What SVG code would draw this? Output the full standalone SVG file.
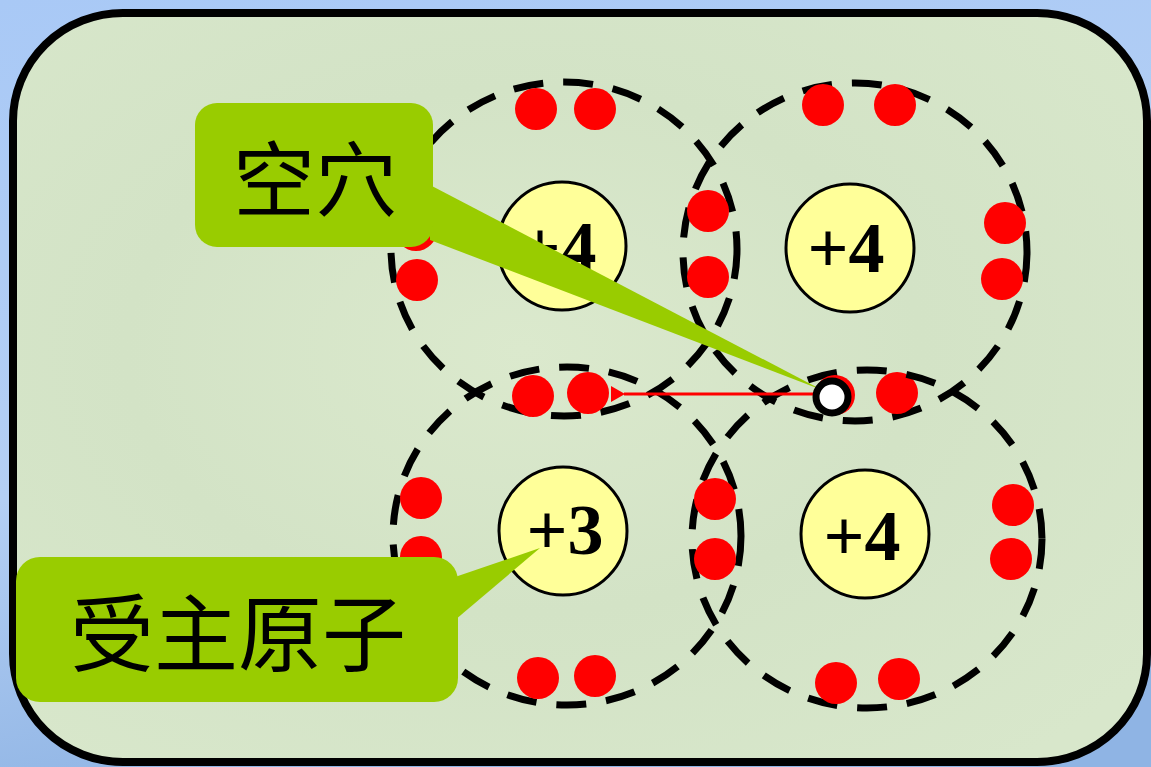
<svg xmlns="http://www.w3.org/2000/svg" width="1151" height="767" viewBox="0 0 1151 767">
  <defs>
    <linearGradient id="sky" x1="0" y1="0" x2="0.3" y2="1">
      <stop offset="0" stop-color="#a9c9f6"/>
      <stop offset="0.6" stop-color="#b4cff4"/>
      <stop offset="1" stop-color="#8fb4e4"/>
    </linearGradient>
    <radialGradient id="panel" cx="0.45" cy="0.45" r="0.7">
      <stop offset="0" stop-color="#dbe9cd"/>
      <stop offset="0.5" stop-color="#d3e3c6"/>
      <stop offset="1" stop-color="#d8e7cb"/>
    </radialGradient>
    <marker id="arrowhead" viewBox="0 0 14 16" refX="1" refY="8" markerWidth="14" markerHeight="16" markerUnits="userSpaceOnUse" orient="auto">
      <path d="M14,0 L0,8 L14,16 z" fill="#ff0000"/>
    </marker>
  </defs>
  <style>
    .shell { fill: none; stroke: #000; stroke-width: 7; stroke-dasharray: 30 20; }
    .nucleus { fill: #ffff99; stroke: #000; stroke-width: 3; }
    .charge { font-family: "Liberation Serif", "Times New Roman", serif; font-weight: bold; font-size: 72px; text-anchor: middle; fill: #000; }
    .electron { fill: #ff0000; }
    .callout { fill: #99cc00; }
    .label { font-family: "Noto Sans CJK SC", "Noto Sans CJK JP", sans-serif; text-anchor: middle; fill: #000; }
  </style>

  <!-- backdrop and framed panel -->
  <rect x="0" y="0" width="1151" height="767" fill="url(#sky)"/>
  <rect x="13" y="13" width="1134" height="749" rx="110" ry="108" fill="url(#panel)" stroke="#000" stroke-width="8"/>

  <!-- atom: top-left (+4) -->
  <g id="atom-top-left">
    <ellipse class="shell" cx="564" cy="249" rx="173" ry="167"/>
    <circle class="nucleus" cx="562" cy="246" r="64"/>
    <text class="charge" x="558" y="271">+4</text>
    <circle class="electron" cx="536" cy="109" r="21"/>
    <circle class="electron" cx="595" cy="109" r="21"/>
    <circle class="electron" cx="416" cy="230" r="21"/>
    <circle class="electron" cx="417" cy="280" r="21"/>
  </g>

  <!-- atom: top-right (+4) -->
  <g id="atom-top-right">
    <ellipse class="shell" cx="855" cy="252" rx="172" ry="169"/>
    <circle class="nucleus" cx="850" cy="248" r="64"/>
    <text class="charge" x="846" y="272">+4</text>
    <circle class="electron" cx="823" cy="105" r="21"/>
    <circle class="electron" cx="895" cy="105" r="21"/>
    <circle class="electron" cx="1005" cy="223" r="21"/>
    <circle class="electron" cx="1002" cy="279" r="21"/>
    <circle class="electron" cx="708" cy="211" r="21"/>
    <circle class="electron" cx="708" cy="277" r="21"/>
    <circle class="electron" cx="897" cy="393" r="21"/>
  </g>

  <!-- atom: bottom-left acceptor (+3) -->
  <g id="atom-bottom-left">
    <ellipse class="shell" cx="567" cy="536" rx="174" ry="169"/>
    <circle class="nucleus" cx="563" cy="531" r="64"/>
    <text class="charge" x="565" y="554">+3</text>
    <circle class="electron" cx="533" cy="396" r="21"/>
    <circle class="electron" cx="588" cy="393" r="21"/>
    <circle class="electron" cx="421" cy="498" r="21"/>
    <circle class="electron" cx="421" cy="557" r="21"/>
    <circle class="electron" cx="538" cy="678" r="21"/>
    <circle class="electron" cx="595" cy="676" r="21"/>
  </g>

  <!-- atom: bottom-right (+4) -->
  <g id="atom-bottom-right">
    <ellipse class="shell" cx="867" cy="539" rx="175" ry="169"/>
    <circle class="nucleus" cx="865" cy="534" r="64"/>
    <text class="charge" x="862" y="560">+4</text>
    <circle class="electron" cx="715" cy="499" r="21"/>
    <circle class="electron" cx="715" cy="559" r="21"/>
    <circle class="electron" cx="1013" cy="505" r="21"/>
    <circle class="electron" cx="1011" cy="559" r="21"/>
    <circle class="electron" cx="836" cy="683" r="21"/>
    <circle class="electron" cx="899" cy="679" r="21"/>
  </g>

  <!-- callout: hole -->
  <g id="callout-hole">
    <polygon class="callout" points="430,185 430,240 822,390"/>
    <rect class="callout" x="195" y="103" width="238" height="144" rx="22"/>
    <text class="label" x="315" y="210" font-size="82">空穴</text>
  </g>

  <!-- callout: acceptor atom -->
  <g id="callout-acceptor">
    <polygon class="callout" points="455,577 455,620 540,548"/>
    <rect class="callout" x="16" y="557" width="442" height="145" rx="24"/>
    <text class="label" x="238" y="665" font-size="84">受主原子</text>
  </g>

  <!-- connectors: electron moving into the hole -->
  <g id="connectors">
    <line x1="816" y1="394" x2="624" y2="394" stroke="#ff0000" stroke-width="3" marker-end="url(#arrowhead)"/>
  </g>

  <!-- the hole -->
  <g id="hole">
    <circle cx="835" cy="395" r="20" fill="#ff0000"/>
    <circle cx="832" cy="397" r="16" fill="#ffffff" stroke="#000" stroke-width="7"/>
  </g>
</svg>
